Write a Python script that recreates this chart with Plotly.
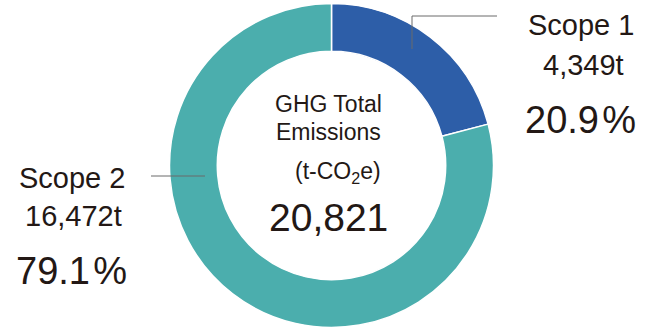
import plotly.graph_objects as go

W, H = 655, 335
categories = ["Scope 1", "Scope 2"]
values = [4349, 16472]
colors = ["#2D5EA8", "#4BAEAD"]
center_title = ["GHG Total", "Emissions"]
unit = "(t-CO<sub>2</sub>e)"

FONT = "Liberation Sans, Arial, Helvetica, sans-serif"
INK = "#231815"

total = sum(values)
pcts = [v / total * 100 for v in values]

def px(x):
    return x / W

def py(y):
    return 1 - y / H

cx, cy, R = 331.5, 165.5, 162
fig = go.Figure(go.Pie(
    labels=categories, values=values, sort=False, direction="clockwise",
    rotation=0, hole=0.705, textinfo="none", hoverinfo="label+value+percent",
    marker=dict(colors=colors, line=dict(color="white", width=1.5)),
    domain=dict(x=[px(cx - R), px(cx + R)], y=[py(cy + R), py(cy - R)]),
    showlegend=False,
))

ann = []
def txt(x, y, s, size):
    ann.append(dict(x=px(x), y=py(y), xref="paper", yref="paper", text=s,
                    showarrow=False, xanchor="center", yanchor="middle",
                    font=dict(family=FONT, size=size, color=INK)))

# center
txt(328, 104, center_title[0], 23)
txt(328, 132, center_title[1], 23)
txt(338, 172, unit, 23)
txt(328, 217, f"{total:,}", 39)

# Scope 1 labels
txt(581, 25, categories[0], 29)
txt(583, 65, f"{values[0]:,}t", 29)
txt(580, 120, f"{pcts[0]:.1f}\u200a%", 38)
# Scope 2 labels
txt(72, 178, categories[1], 29)
txt(73, 216, f"{values[1]:,}t", 29)
txt(71, 271, f"{pcts[1]:.1f}\u200a%", 38)

line = dict(color="#6b6b6b", width=1)
shapes = [
    dict(type="line", xref="paper", yref="paper", x0=px(412), y0=py(49), x1=px(412), y1=py(16), line=line),
    dict(type="line", xref="paper", yref="paper", x0=px(412), y0=py(16), x1=px(497), y1=py(16), line=line),
    dict(type="line", xref="paper", yref="paper", x0=px(151), y0=py(176), x1=px(205), y1=py(176), line=line),
]

fig.update_layout(width=W, height=H, margin=dict(l=0, r=0, t=0, b=0),
                  paper_bgcolor="white", plot_bgcolor="white",
                  annotations=ann, shapes=shapes)
fig.write_html("out.html")
